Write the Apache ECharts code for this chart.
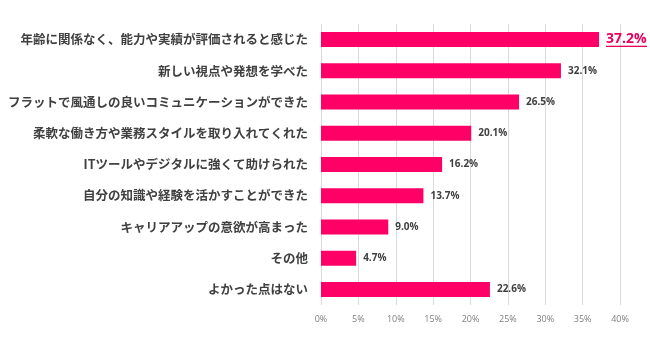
<!DOCTYPE html>
<html><head><meta charset="utf-8">
<script src="https://cdn.jsdelivr.net/npm/echarts@6/dist/echarts.min.js"></script>
<style>html,body{margin:0;padding:0;background:#fff}#c{width:650px;height:350px}</style>
</head><body><div id="c"></div>
<script>
const categories = ['年齢に関係なく、能力や実績が評価されると感じた','新しい視点や発想を学べた','フラットで風通しの良いコミュニケーションができた','柔軟な働き方や業務スタイルを取り入れてくれた','ITツールやデジタルに強くて助けられた','自分の知識や経験を活かすことができた','キャリアアップの意欲が高まった','その他','よかった点はない'];
const values = [37.2, 32.1, 26.5, 20.1, 16.2, 13.7, 9.0, 4.7, 22.6];
const tickLabels = ['0%','5%','10%','15%','20%','25%','30%','35%','40%'];

const ul = document.createElement('canvas');
ul.width = 4; ul.height = 20;
const g = ul.getContext('2d');
g.fillStyle = '#e8005f';
g.fillRect(0, 18, 4, 2);

const chart = echarts.init(document.getElementById('c'), null, {renderer:'canvas'});
chart.setOption({
  animation:false,
  grid:{left:321, right:30, top:24, bottom:45, containLabel:false},
  xAxis:{type:'value', min:0, max:40, interval:5,
    axisLabel:{color:'#7f7f7f', fontSize:9, fontFamily:'Open Sans', margin:10,
      formatter:(v)=>tickLabels[Math.round(v/5)]},
    axisLine:{show:false}, axisTick:{show:false},
    splitLine:{lineStyle:{color:'#d9d9d9', width:1}}},
  yAxis:{type:'category', data:categories, inverse:true,
    axisLine:{show:false}, axisTick:{show:false},
    axisLabel:{color:'#404040', fontSize:12.5, fontWeight:'bold', fontFamily:'Noto Sans CJK JP', margin:13}},
  series:[{type:'bar', data:values.map((v,i)=>i===0?{value:v,
      label:{formatter:'{u|{c}%}', rich:{u:{color:'#e8005f', fontSize:14, fontWeight:'bold', fontFamily:'Open Sans', padding:[0,0,1,0], backgroundColor:{image:ul}}}}}:v),
    barWidth:15, itemStyle:{color:'#ff0066'},
    label:{show:true, position:'right', distance:7, color:'#404040', fontSize:10, fontWeight:'bold', fontFamily:'Open Sans',
      formatter:(p)=>p.value.toFixed(1)+'%'}}]
});
</script></body></html>
